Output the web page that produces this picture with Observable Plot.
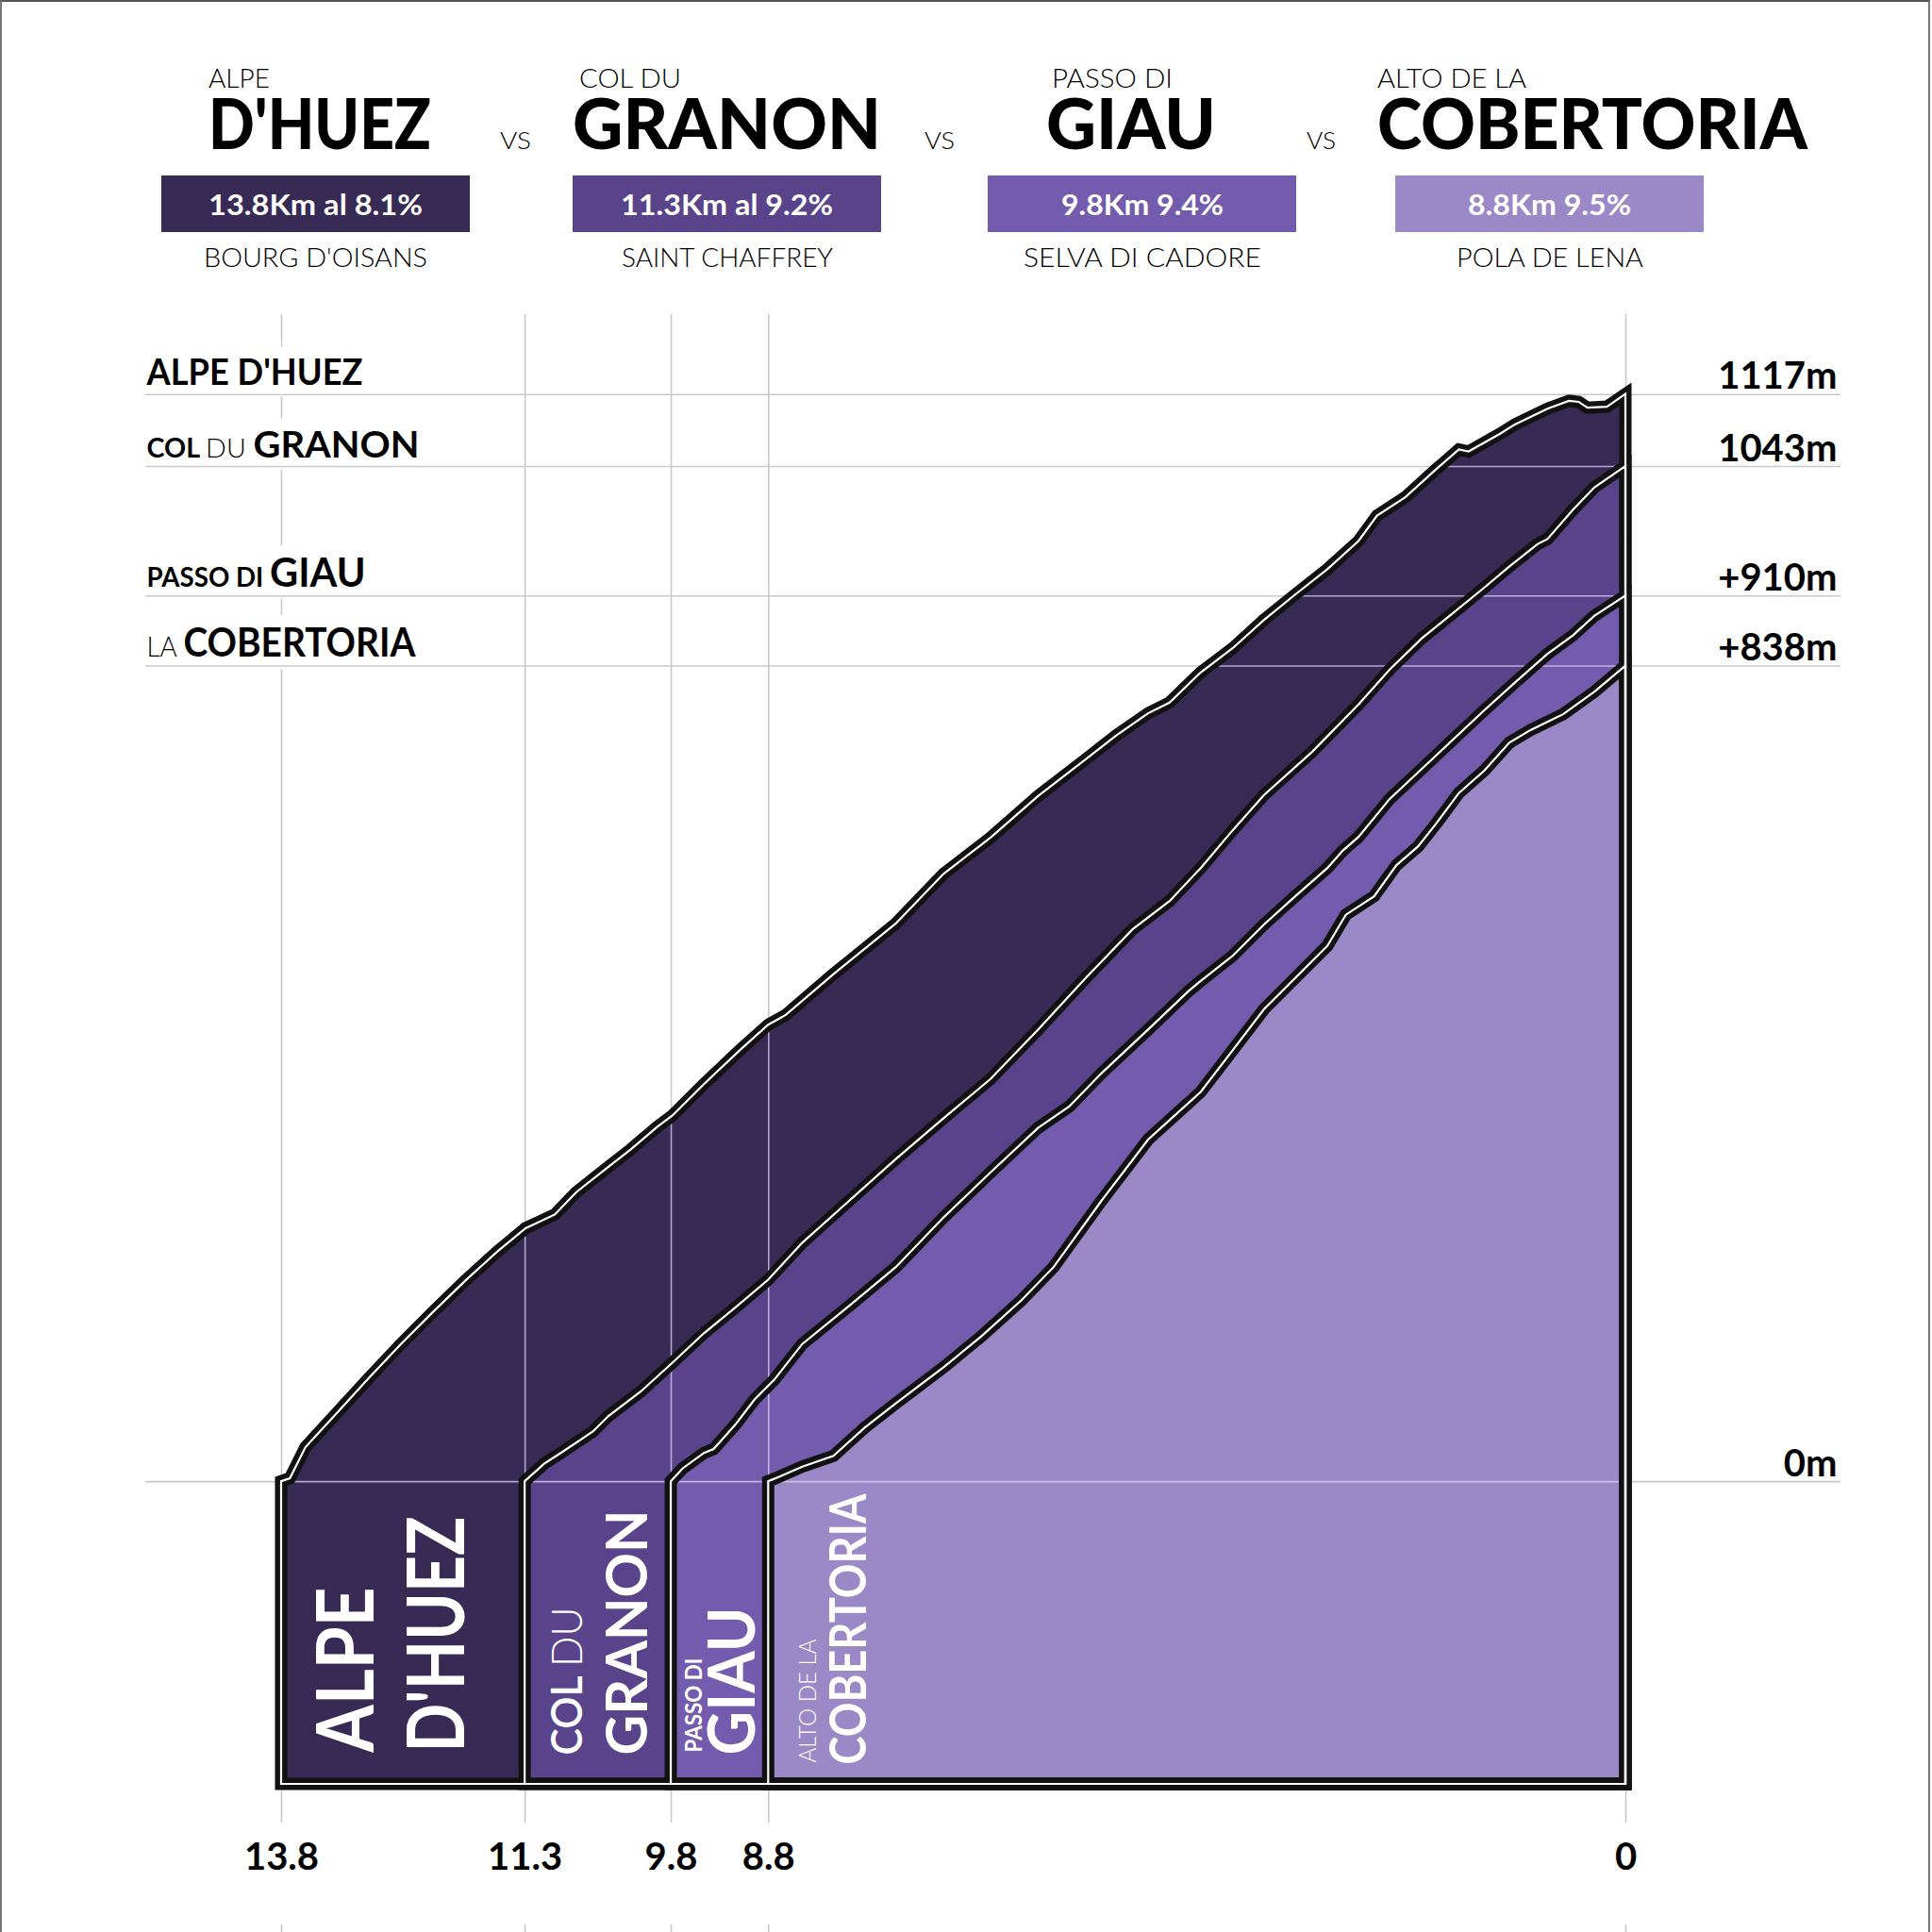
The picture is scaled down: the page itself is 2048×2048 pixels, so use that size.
<!DOCTYPE html>
<html><head><meta charset="utf-8">
<script src="https://cdn.jsdelivr.net/npm/d3@7"></script>
<script src="https://cdn.jsdelivr.net/npm/@observablehq/plot@0.6"></script>
<style>
html,body{margin:0;padding:0;background:#fff;}
#wrap{position:relative;width:2048px;height:2048px;overflow:hidden;background:#fff;}
#header{position:relative;width:2048px;height:333px;}
#frame{position:absolute;left:0;top:0;width:2046px;height:2048px;border-top:2px solid #555;border-left:2px solid #777;border-right:2px solid #777;box-sizing:border-box;pointer-events:none;}
</style></head><body>
<div id="wrap"><div id="header"></div><div id="chart"></div><div id="frame"></div></div>
<script>
// ---------------- DATA ----------------
const xTicks = [13.8, 11.3, 9.8, 8.8, 0];
const yTicks = [1117, 1043, 910, 838, 0];
const yTickLabels = ["1117m", "1043m", "+910m", "+838m", "0m"];
const leftLabels = ["ALPE D'HUEZ", "COL DU GRANON", "PASSO DI GIAU", "LA COBERTORIA"];
const leftLabelValues = [1117, 1043, 910, 838];

const titlePrefix = ["ALPE", "COL DU", "PASSO DI", "ALTO DE LA"];
const titleName = ["D'HUEZ", "GRANON", "GIAU", "COBERTORIA"];
const climbStats = ["13.8Km al 8.1%", "11.3Km al 9.2%", "9.8Km 9.4%", "8.8Km 9.5%"];
const climbStartTown = ["BOURG D'OISANS", "SAINT CHAFFREY", "SELVA DI CADORE", "POLA DE LENA"];
const climbStartKm = [13.8, 11.3, 9.8, 8.8];
const bottomTop = ["ALPE", "COL DU", "PASSO DI", "ALTO DE LA"];
const bottomMain = ["D'HUEZ", "GRANON", "GIAU", "COBERTORIA"];

// profiles: [km to summit, metres climbed]
const alpeDHuez = [[13.8,0],[13.71,3],[13.55,35],[13.22,71],[12.9,106],[12.57,141],[12.24,174],[11.91,206],[11.58,236],[11.29,260],[10.99,274],[10.77,297],[10.44,323],[10.21,341],[9.94,364],[9.78,376],[9.46,408],[9.09,443],[8.8,469],[8.62,479],[8.13,521],[7.49,573],[7.0,624],[6.52,661],[6.03,704],[5.55,741],[5.23,766],[4.9,789],[4.68,800],[4.36,831],[4.03,856],[3.71,885],[3.39,911],[3.06,937],[2.74,966],[2.55,992],[2.26,1011],[1.94,1040],[1.71,1060],[1.61,1058],[1.29,1076],[1.13,1086],[0.8,1102],[0.58,1110],[0.48,1109],[0.39,1103],[0.19,1104],[0,1117]];
const colDuGranon = [[11.3,0],[11.1,18],[10.93,29],[10.6,51],[10.44,67],[10.11,92],[9.78,122],[9.46,152],[9.13,179],[8.8,207],[8.45,245],[7.97,288],[7.49,331],[7.0,373],[6.52,413],[6.03,464],[5.55,516],[5.06,567],[4.68,596],[4.36,630],[4.03,669],[3.71,705],[3.22,749],[2.74,798],[2.42,834],[2.09,866],[1.77,892],[1.45,918],[1.19,940],[0.9,963],[0.8,968],[0.54,998],[0.32,1021],[0,1043]];
const passoGiau = [[9.8,0],[9.68,13],[9.46,29],[9.36,33],[9.13,59],[8.94,84],[8.74,104],[8.45,141],[7.97,180],[7.49,220],[7.0,271],[6.52,317],[6.03,363],[5.71,385],[5.38,419],[4.9,464],[4.48,504],[4.36,514],[4.03,540],[3.71,572],[3.39,601],[3.06,630],[2.9,648],[2.74,662],[2.42,701],[1.94,746],[1.45,792],[1.13,821],[0.8,850],[0.54,869],[0.32,889],[0,910]];
const cobertoria = [[8.8,0],[8.7,4],[8.45,15],[8.13,26],[7.81,55],[7.49,80],[7.0,117],[6.61,149],[6.2,186],[5.87,220],[5.38,288],[4.9,351],[4.68,371],[4.36,400],[4.03,443],[3.71,485],[3.39,517],[3.06,550],[2.87,582],[2.58,601],[2.35,633],[2.13,652],[1.94,676],[1.71,707],[1.45,730],[1.19,759],[0.97,772],[0.64,788],[0.32,811],[0,838]];
const profiles = [alpeDHuez, colDuGranon, passoGiau, cobertoria];
const BASE = -311; // floor of the profile boxes (m)

// ---------------- STYLE / LAYOUT ----------------
const FONT = 'Lato, "Open Sans", "DejaVu Sans", sans-serif';
const colors = ["#372a55", "#59448c", "#735bad", "#9b88c6"];
const gray = "#c9c9c9";
const W = 2048, H = 1715, ML = 298, MR = 325, MT = 84.7, MB = 157;

const headerLayout = [
  {prefixX: 221, nameX: 221, boxX: 171, prefixW: 65, nameW: 236, statW: 227, townW: 237},
  {prefixX: 614, nameX: 607, boxX: 607, prefixW: 108, nameW: 327, statW: 225, townW: 224},
  {prefixX: 1115, nameX: 1109, boxX: 1047, prefixW: 128, nameW: 180, statW: 172, townW: 252},
  {prefixX: 1460, nameX: 1460, boxX: 1479, prefixW: 158, nameW: 456, statW: 173, townW: 198}
];
const vsLayout = [{x: 530, w: 33}, {x: 980, w: 32}, {x: 1385, w: 31}];
const bottomStyle = [
  {top: {size: 84, weight: 700, dx: 97, dy: -34}, main: {size: 84, dx: 193, dy: -34}},
  {top: {size: 46, weight: 700, dx: 60, dy: -31}, main: {size: 61, dx: 129, dy: -31}},
  {top: {size: 25, weight: 700, dx: 32, dy: -34}, main: {size: 68, dx: 88, dy: -31}},
  {top: {size: 25, weight: 300, dx: 50, dy: -23}, main: {size: 53, dx: 103, dy: -21}}
];
const rich = {
  "COL DU GRANON": [["COL ", 700, 28], ["DU ", 300, 28], ["GRANON", 700, 39]],
  "PASSO DI GIAU": [["PASSO DI ", 700, 28], ["GIAU", 700, 42]],
  "LA COBERTORIA": [["LA ", 300, 30], ["COBERTORIA", 700, 42]],
  "COL DU": [["COL ", 600, 46], ["DU", 300, 46]]
};
const textLengths = {
  "ALPE": 175, "D'HUEZ": 250, "COL DU": 157, "GRANON": 260, "PASSO DI": 100, "GIAU": 157,
  "ALTO DE LA": 131, "COBERTORIA": 287,
  "ALPE D'HUEZ": 229, "COL DU GRANON": 289, "PASSO DI GIAU": 232, "LA COBERTORIA": 285
};

// ---------------- HEADER ----------------
const header = document.getElementById("header");
const LH = 0.75, ASC = LH / 2 + 0.387;
function place(str, o) {
  const el = document.createElement("div");
  el.textContent = str;
  Object.assign(el.style, {position: "absolute", whiteSpace: "nowrap", fontFamily: FONT,
    fontSize: o.size + "px", fontWeight: String(o.weight), lineHeight: String(LH), color: o.color || "#000",
    top: (o.baseline - ASC * o.size) + "px", left: "0px", transformOrigin: "0 0"});
  header.appendChild(el);
  const w = el.getBoundingClientRect().width;
  const k = o.width ? o.width / w : 1;
  const left = o.anchor === "middle" ? o.x - (w * k) / 2 : o.x;
  el.style.left = left + "px";
  el.style.transform = `scaleX(${k})`;
}
headerLayout.forEach((L, i) => {
  place(titlePrefix[i], {x: L.prefixX, baseline: 94, size: 26.5, weight: 300, width: L.prefixW});
  place(titleName[i], {x: L.nameX, baseline: 158, size: 74, weight: 900, width: L.nameW});
  const box = document.createElement("div");
  Object.assign(box.style, {position: "absolute", left: L.boxX + "px", top: "186px", width: "327px", height: "60px", background: colors[i]});
  header.appendChild(box);
  const cx = L.boxX + 327 / 2;
  place(climbStats[i], {x: cx, anchor: "middle", baseline: 228, size: 29.5, weight: 700, color: "#fff", width: L.statW});
  place(climbStartTown[i], {x: cx, anchor: "middle", baseline: 283, size: 28, weight: 300, width: L.townW});
});
vsLayout.forEach(v => place("VS", {x: v.x, baseline: 158, size: 25, weight: 300, width: v.w}));

// ---------------- CHART ----------------
function elevAt(p, k) {
  for (let j = 0; j < p.length - 1; j++) {
    const [k0, e0] = p[j], [k1, e1] = p[j + 1];
    if (k <= k0 && k >= k1) return k0 === k1 ? e1 : e0 + (e1 - e0) * (k0 - k) / (k0 - k1);
  }
  return k >= p[0][0] ? p[0][1] : p[p.length - 1][1];
}
function crossing(p, e) {
  if (p[0][1] >= e) return p[0][0];
  for (let j = 0; j < p.length - 1; j++) {
    const [k0, e0] = p[j], [k1, e1] = p[j + 1];
    if (e0 < e && e1 >= e) return k0 + (k1 - k0) * (e - e0) / (e1 - e0);
  }
  return 0;
}
const topProfile = profiles[0];
const lightH = yTicks.map(e => ({e, x1: crossing(topProfile, e), x2: 0})).filter(d => d.x1 > 0.02);
const lightV = xTicks.map(k => ({k, t: elevAt(topProfile, k)}));

const marks = [
  Plot.ruleX(xTicks, {x: d => d, stroke: gray, strokeWidth: 1.6, insetTop: -MT, insetBottom: -41}),
  Plot.ruleX(xTicks, {x: d => d, stroke: gray, strokeWidth: 1.6, insetTop: 1707 - MT, insetBottom: -MB}),
  Plot.text(leftLabels, {y: (d, i) => leftLabelValues[i], text: d => d, frameAnchor: "left", dx: -143, dy: -10,
    textAnchor: "start", lineAnchor: "bottom", fontSize: 39, fontWeight: 700, fill: "white", stroke: "white", strokeWidth: 26, strokeLinejoin: "round"}),
  Plot.ruleY(yTicks, {y: d => d, stroke: gray, strokeWidth: 1.6, insetLeft: -144, insetRight: -228})
];
profiles.forEach((p, i) => marks.push(Plot.areaY(p, {x: d => d[0], y1: BASE, y2: d => d[1], fill: colors[i]})));
marks.push(
  Plot.ruleY(lightH, {y: "e", x1: "x1", x2: "x2", stroke: "#ddd2f5", strokeOpacity: 0.75, strokeWidth: 1.6}),
  Plot.ruleX(lightV, {x: "k", y1: BASE, y2: "t", stroke: "#ddd2f5", strokeOpacity: 0.75, strokeWidth: 1.6})
);
profiles.forEach(p => marks.push(Plot.areaY(p, {x: d => d[0], y1: BASE, y2: d => d[1], fill: "none", stroke: "#111", strokeWidth: 13, strokeLinejoin: "miter", strokeMiterlimit: 4})));
profiles.forEach(p => marks.push(Plot.areaY(p, {x: d => d[0], y1: BASE, y2: d => d[1], fill: "none", stroke: "#fff", strokeWidth: 2.2, strokeLinejoin: "miter", strokeMiterlimit: 4})));
bottomStyle.forEach((s, i) => {
  marks.push(Plot.text([i], {x: j => climbStartKm[j], y: BASE, text: j => bottomTop[j], rotate: -90, textAnchor: "start", lineAnchor: "bottom",
    dx: s.top.dx, dy: s.top.dy, fontSize: s.top.size, fontWeight: s.top.weight, fill: "#fff"}));
  marks.push(Plot.text([i], {x: j => climbStartKm[j], y: BASE, text: j => bottomMain[j], rotate: -90, textAnchor: "start", lineAnchor: "bottom",
    dx: s.main.dx, dy: s.main.dy, fontSize: s.main.size, fontWeight: 700, fill: "#fff"}));
});
marks.push(
  Plot.text(leftLabels, {y: (d, i) => leftLabelValues[i], text: d => d, frameAnchor: "left", dx: -143, dy: -10,
    textAnchor: "start", lineAnchor: "bottom", fontSize: 39, fontWeight: 700, fill: "#000"}),
  Plot.text(yTickLabels, {y: (d, i) => yTicks[i], text: d => d, frameAnchor: "right", dx: 224, dy: -6,
    textAnchor: "end", lineAnchor: "bottom", fontSize: 40, fontWeight: 700, fill: "#000"}),
  Plot.text(xTicks, {x: d => d, text: d => String(d), frameAnchor: "bottom", dy: 78, lineAnchor: "middle",
    textAnchor: "middle", fontSize: 40, fontWeight: 700, fill: "#000"})
);

const svg = Plot.plot({
  width: W, height: H, marginLeft: ML, marginRight: MR, marginTop: MT, marginBottom: MB,
  x: {domain: [d3.max(climbStartKm), 0], axis: null},
  y: {domain: [BASE, d3.max(yTicks)], axis: null},
  style: {fontFamily: FONT, background: "white", overflow: "visible"},
  marks
});
document.getElementById("chart").appendChild(svg);

d3.select(svg).selectAll("text").each(function () {
  const t = this.textContent;
  if (rich[t]) {
    const sel = d3.select(this);
    this.textContent = "";
    rich[t].forEach(([s, w, fs]) => sel.append("tspan").attr("font-weight", w).attr("font-size", fs).text(s));
  }
  if (textLengths[t]) d3.select(this).attr("textLength", textLengths[t]).attr("lengthAdjust", "spacingAndGlyphs");
});
</script></body></html>
